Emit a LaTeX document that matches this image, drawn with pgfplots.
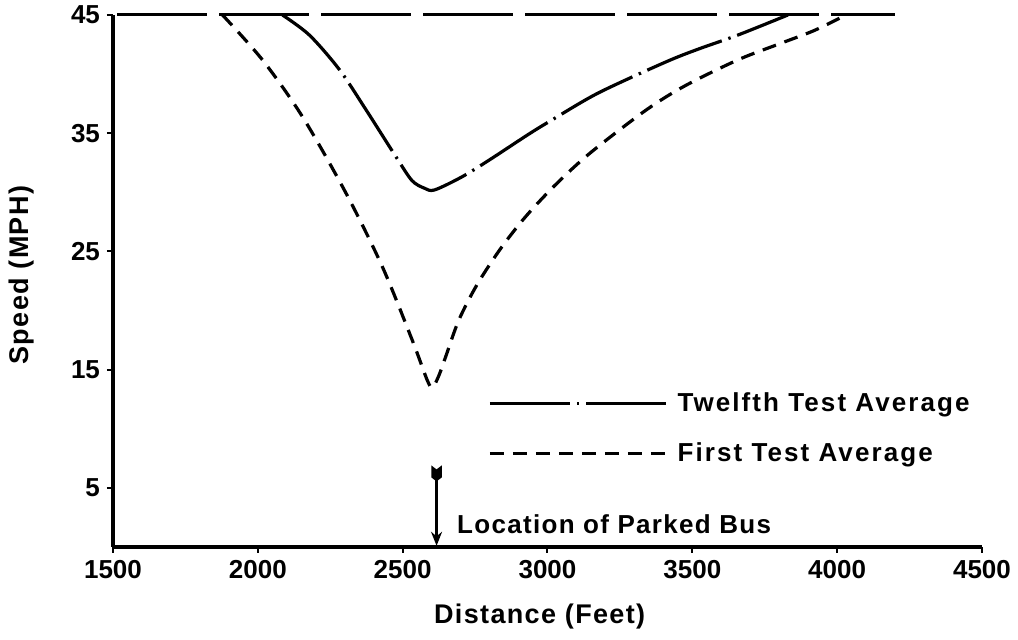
\documentclass[border=0pt]{standalone}
\usepackage{fontspec}
\setmainfont{Liberation Sans}
\newfontfamily\spaced[LetterSpace=5]{Liberation Sans}
\newfontfamily\wide[LetterSpace=8]{Liberation Sans}
\usepackage{pgfplots}
\pgfplotsset{compat=1.18}
\usetikzlibrary{arrows.meta}

\begin{document}
\begin{tikzpicture}
\useasboundingbox (-56.5pt,-46.5pt) rectangle (452.5pt,273.5pt);
\begin{axis}[
  at={(0,0)}, anchor=south west,
  scale only axis, width=434.5pt, height=266pt,
  xmin=1500, xmax=4500, ymin=0, ymax=45,
  axis x line*=bottom, axis y line*=left,
  axis line style={line width=2pt, -},
  xtick={1500,2000,...,4500}, ytick={5,15,25,35,45},
  tick align=outside, major tick length=3pt,
  tick style={line width=1pt, black},
  /pgf/number format/assume math mode=true,
  /pgf/number format/1000 sep={},
  tick label style={font=\fontsize{13}{15}\selectfont\bfseries},
  xlabel={Distance (Feet)}, ylabel={Speed (MPH)},
  label style={font=\fontsize{13.5}{16}\selectfont\bfseries\spaced},
  xlabel style={at={(axis description cs:0.491,-0.13)}, anchor=center},
  ylabel style={at={(axis description cs:-0.1047,0.511)}, anchor=center, rotate=0},
  clip=false,
  legend cell align=left,
  legend style={draw=none, fill=none, at={(rel axis cs:0.4315,0.2985)}, anchor=north west,
    font=\fontsize{13}{15}\selectfont\bfseries\wide, row sep=10pt,
    inner sep=0pt},
  legend image code/.code={\draw[#1] (0pt,0pt) -- (91pt,0pt);},
]
% posted speed reference
\addplot[forget plot, line width=1.5pt, dash pattern=on 45pt off 6pt] coordinates {(1515,45) (4200,45)};

% twelfth test average
\addplot[line width=1.6pt, smooth, tension=0.5, dash pattern=on 40pt off 3.5pt on 1.2pt off 3.5pt] coordinates {
(2085,45) (2178,43.3) (2281,40.4) (2373,37.0) (2477,33.0) (2532,31.0) (2575,30.35)
(2610,30.2) (2704,31.3) (2797,32.7) (2934,34.9) (3014,36.1) (3175,38.4) (3406,41.0)
(3519,42.1) (3657,43.3) (3830,45)};
\addlegendentry{Twelfth Test Average}

% first test average
\addplot[line width=1.6pt, smooth, tension=0.5, dash pattern=on 7pt off 4.5pt] coordinates {
(1878,45) (2016,41.2) (2154,36.4) (2305,29.9) (2430,23.7) (2533,17.5) (2585,14.1)
(2603,13.5) (2625,14.5) (2650,16.2) (2694,19.2) (2757,22.2) (2837,25.2) (2923,27.9)
(3026,30.6) (3146,33.3) (3337,36.9) (3474,39.0) (3657,41.2) (3805,42.6) (3922,43.7)
(4030,45)};
\addlegendentry{First Test Average}

% parked bus marker
\draw[line width=1.4pt, -{Stealth[length=7pt,width=5.5pt]}] (axis cs:2617,6.0) -- (axis cs:2617,0.1);
\coordinate (ftop) at (axis cs:2617,6.9);
\node[anchor=west, font=\fontsize{13}{15}\selectfont\bfseries\spaced, inner sep=0pt]
  at (axis cs:2687,1.95) {Location of Parked Bus};
\end{axis}
\fill[shift={(ftop)}] (-2.6pt,0) -- (0,-2pt) -- (2.6pt,0) -- (2.6pt,-6pt)
  -- (0,-8pt) -- (-2.6pt,-6pt) -- cycle;
\end{tikzpicture}
\end{document}
